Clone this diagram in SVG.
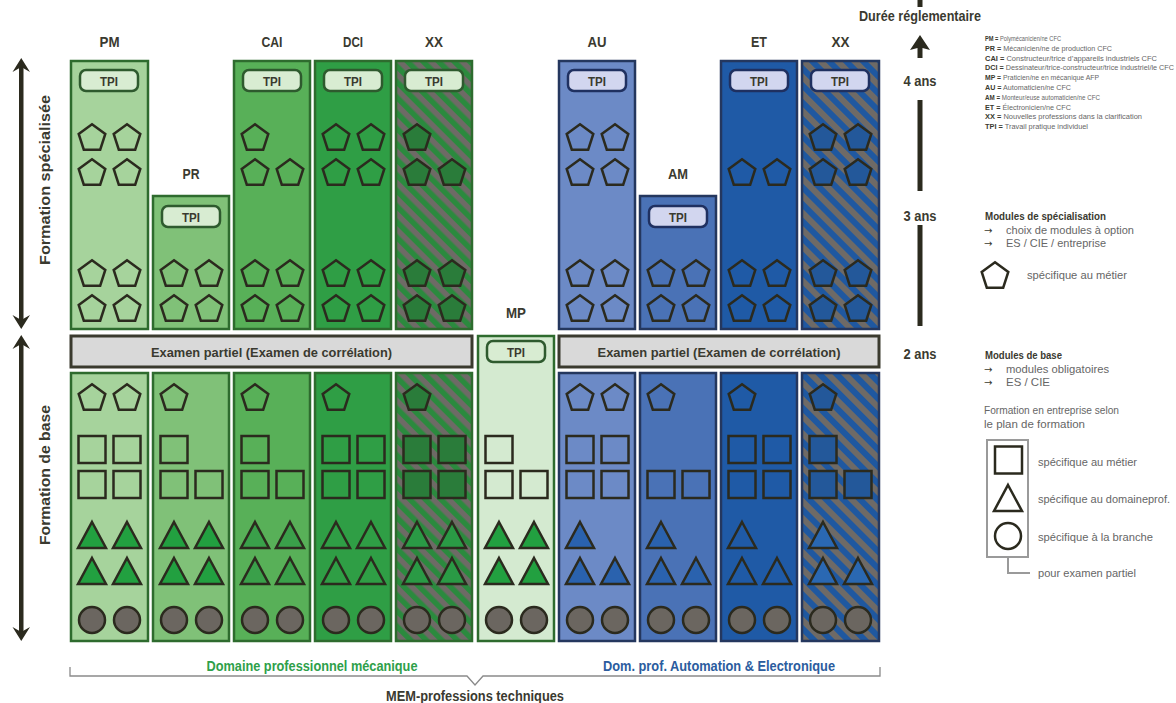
<svg xmlns="http://www.w3.org/2000/svg" xmlns:xlink="http://www.w3.org/1999/xlink" width="1176" height="703" viewBox="0 0 1176 703">
<style>
.t{font-family:"Liberation Sans",Arial,sans-serif;font-weight:bold;fill:#3a3a30;text-anchor:middle}
.col{font-size:15px}
.tpi{font-size:12px}
.ex{font-size:13.5px}
.yr{font-size:14.5px;font-weight:bold;fill:#3a3a30}
.lg{font-family:"Liberation Sans",Arial,sans-serif;fill:#666;font-size:6.5px}
.lg tspan.b{font-weight:bold;fill:#3a3a30}
.lm{font-family:"Liberation Sans",Arial,sans-serif;fill:#666;font-size:11px}
.ar{font-family:"DejaVu Sans",sans-serif;fill:#3a3a30;font-size:10px}
.lh{font-family:"Liberation Sans",Arial,sans-serif;fill:#3a3a30;font-size:11px;font-weight:bold}
.cg{stroke:#2e6b2e;stroke-width:2.5}
.cb{stroke:#24375e;stroke-width:2.5}
.tg{fill:#d8ecd2;stroke:#2e5a2e;stroke-width:2.5}
.tb{fill:#d2d6ef;stroke:#1f3060;stroke-width:2.5}
.exb{fill:#d9d9d9;stroke:#3a3a2e;stroke-width:3}
</style>
<defs>
<pattern id="hg" width="11" height="11" patternUnits="userSpaceOnUse" patternTransform="rotate(45)">
<rect width="11" height="11" fill="#2b8a3e"/><rect width="11" height="5.5" fill="#6e6a66"/>
</pattern>
<pattern id="hb" width="12" height="12" patternUnits="userSpaceOnUse" patternTransform="rotate(45)">
<rect width="12" height="12" fill="#1f58a0"/><rect width="12" height="6" fill="#6e6a66"/>
</pattern>
<path id="pent" d="M0,-12.7 L13.3,-3 L8.2,12.7 L-8.2,12.7 L-13.3,-3 Z" stroke="#2b2a1e" stroke-width="2.5" stroke-linejoin="miter"/>
<rect id="sq" x="-13.5" y="-13.5" width="27" height="27" stroke="#2b2a1e" stroke-width="2.5"/>
<path id="tri" d="M0,-13 L14,13 L-14,13 Z" stroke="#2b2a1e" stroke-width="2.5"/>
<circle id="ci" r="13" stroke="#2b2a1e" stroke-width="2.5"/>
</defs>
<rect width="1176" height="703" fill="#ffffff"/>

<!-- top labels -->
<g id="labels">
<text class="t col" x="109.5" y="47" textLength="20" lengthAdjust="spacingAndGlyphs">PM</text>
<text class="t col" x="191" y="179" textLength="17" lengthAdjust="spacingAndGlyphs">PR</text>
<text class="t col" x="272" y="47" textLength="21" lengthAdjust="spacingAndGlyphs">CAI</text>
<text class="t col" x="353" y="47" textLength="20" lengthAdjust="spacingAndGlyphs">DCI</text>
<text class="t col" x="434" y="47" textLength="18" lengthAdjust="spacingAndGlyphs">XX</text>
<text class="t col" x="516" y="318" textLength="20" lengthAdjust="spacingAndGlyphs">MP</text>
<text class="t col" x="597" y="47" textLength="19" lengthAdjust="spacingAndGlyphs">AU</text>
<text class="t col" x="678" y="179" textLength="20" lengthAdjust="spacingAndGlyphs">AM</text>
<text class="t col" x="759" y="47" textLength="16" lengthAdjust="spacingAndGlyphs">ET</text>
<text class="t col" x="840.5" y="47" textLength="18" lengthAdjust="spacingAndGlyphs">XX</text>
</g>

<!-- PM -->
<g id="PM" fill="none">
<rect class="cg" x="71" y="61" width="77" height="268" fill="#a6d39c"/>
<rect class="tg" x="80" y="70" width="58" height="21" rx="6"/>
<text class="t tpi" x="109" y="85.5" textLength="18" lengthAdjust="spacingAndGlyphs">TPI</text>
<use href="#pent" x="92" y="137"/><use href="#pent" x="127" y="137"/>
<use href="#pent" x="92" y="172"/><use href="#pent" x="127" y="172"/>
<use href="#pent" x="92" y="273"/><use href="#pent" x="127" y="273"/>
<use href="#pent" x="92" y="308"/><use href="#pent" x="127" y="308"/>
<rect class="cg" x="71" y="373" width="77" height="268" fill="#a6d39c"/>
<use href="#pent" x="92" y="397"/><use href="#pent" x="127" y="397"/>
<use href="#sq" x="92" y="449.5"/><use href="#sq" x="127" y="449.5"/>
<use href="#sq" x="92" y="484.5"/><use href="#sq" x="127" y="484.5"/>
<use href="#tri" x="92" y="535" fill="#22a040"/><use href="#tri" x="127" y="535" fill="#22a040"/>
<use href="#tri" x="92" y="571" fill="#22a040"/><use href="#tri" x="127" y="571" fill="#22a040"/>
<use href="#ci" x="92" y="620" fill="#6b6660"/><use href="#ci" x="127" y="620" fill="#6b6660"/>
</g>

<!-- PR -->
<g id="PR" fill="none">
<rect class="cg" x="153" y="196" width="76" height="133" fill="#80c178"/>
<rect class="tg" x="162" y="206" width="58" height="21" rx="6"/>
<text class="t tpi" x="191" y="221.5" textLength="18" lengthAdjust="spacingAndGlyphs">TPI</text>
<use href="#pent" x="174" y="273"/><use href="#pent" x="209" y="273"/>
<use href="#pent" x="174" y="308"/><use href="#pent" x="209" y="308"/>
<rect class="cg" x="153" y="373" width="76" height="268" fill="#80c178"/>
<use href="#pent" x="174" y="397"/>
<use href="#sq" x="174" y="449.5"/>
<use href="#sq" x="174" y="484.5"/><use href="#sq" x="209" y="484.5"/>
<use href="#tri" x="174" y="535" fill="#22a040"/><use href="#tri" x="209" y="535" fill="#22a040"/>
<use href="#tri" x="174" y="571" fill="#22a040"/><use href="#tri" x="209" y="571" fill="#22a040"/>
<use href="#ci" x="174" y="620" fill="#6b6660"/><use href="#ci" x="209" y="620" fill="#6b6660"/>
</g>

<!-- CAI -->
<g id="CAI" fill="none">
<rect class="cg" x="234" y="61" width="76" height="268" fill="#58b058"/>
<rect class="tg" x="243" y="70" width="58" height="21" rx="6"/>
<text class="t tpi" x="272" y="85.5" textLength="18" lengthAdjust="spacingAndGlyphs">TPI</text>
<use href="#pent" x="255" y="137"/>
<use href="#pent" x="255" y="172"/><use href="#pent" x="290" y="172"/>
<use href="#pent" x="255" y="273"/><use href="#pent" x="290" y="273"/>
<use href="#pent" x="255" y="308"/><use href="#pent" x="290" y="308"/>
<rect class="cg" x="234" y="373" width="76" height="268" fill="#58b058"/>
<use href="#pent" x="255" y="397"/>
<use href="#sq" x="255" y="449.5"/>
<use href="#sq" x="255" y="484.5"/><use href="#sq" x="290" y="484.5"/>
<use href="#tri" x="255" y="535" fill="#3aa04a"/><use href="#tri" x="290" y="535" fill="#3aa04a"/>
<use href="#tri" x="255" y="571" fill="#3aa04a"/><use href="#tri" x="290" y="571" fill="#3aa04a"/>
<use href="#ci" x="255" y="620" fill="#6b6660"/><use href="#ci" x="290" y="620" fill="#6b6660"/>
</g>

<!-- DCI -->
<g id="DCI" fill="none">
<rect class="cg" x="315" y="61" width="76" height="268" fill="#2f9e45"/>
<rect class="tg" x="324" y="70" width="58" height="21" rx="6"/>
<text class="t tpi" x="353" y="85.5" textLength="18" lengthAdjust="spacingAndGlyphs">TPI</text>
<use href="#pent" x="336" y="137"/><use href="#pent" x="371" y="137"/>
<use href="#pent" x="336" y="172"/><use href="#pent" x="371" y="172"/>
<use href="#pent" x="336" y="273"/><use href="#pent" x="371" y="273"/>
<use href="#pent" x="336" y="308"/><use href="#pent" x="371" y="308"/>
<rect class="cg" x="315" y="373" width="76" height="268" fill="#2f9e45"/>
<use href="#pent" x="336" y="397"/>
<use href="#sq" x="336" y="449.5"/><use href="#sq" x="371" y="449.5"/>
<use href="#sq" x="336" y="484.5"/><use href="#sq" x="371" y="484.5"/>
<use href="#tri" x="336" y="535"/><use href="#tri" x="371" y="535"/>
<use href="#tri" x="336" y="571"/><use href="#tri" x="371" y="571"/>
<use href="#ci" x="336" y="620" fill="#6b6660"/><use href="#ci" x="371" y="620" fill="#6b6660"/>
</g>

<!-- XX green -->
<g id="XXg" fill="#2a7c3a">
<rect class="cg" x="396" y="61" width="76" height="268" fill="url(#hg)"/>
<rect class="tg" x="405" y="70" width="58" height="21" rx="6"/>
<text class="t tpi" x="434" y="85.5" textLength="18" lengthAdjust="spacingAndGlyphs">TPI</text>
<use href="#pent" x="417" y="137"/>
<use href="#pent" x="417" y="172"/><use href="#pent" x="452" y="172"/>
<use href="#pent" x="417" y="273"/><use href="#pent" x="452" y="273"/>
<use href="#pent" x="417" y="308"/><use href="#pent" x="452" y="308"/>
<rect class="cg" x="396" y="373" width="76" height="268" fill="url(#hg)"/>
<use href="#pent" x="417" y="397"/>
<use href="#sq" x="417" y="449.5"/><use href="#sq" x="452" y="449.5"/>
<use href="#sq" x="417" y="484.5"/><use href="#sq" x="452" y="484.5"/>
<use href="#tri" x="417" y="535" fill="#2a9a45"/><use href="#tri" x="452" y="535" fill="#2a9a45"/>
<use href="#tri" x="417" y="571" fill="#2a9a45"/><use href="#tri" x="452" y="571" fill="#2a9a45"/>
<use href="#ci" x="417" y="620" fill="#6b6660"/><use href="#ci" x="452" y="620" fill="#6b6660"/>
</g>

<!-- MP -->
<g id="MP" fill="none">
<rect class="cg" x="478" y="336" width="76" height="305" fill="#d4ead0"/>
<rect class="tg" x="487" y="341" width="58" height="21" rx="6"/>
<text class="t tpi" x="516" y="356.5" textLength="18" lengthAdjust="spacingAndGlyphs">TPI</text>
<use href="#sq" x="499" y="449.5"/>
<use href="#sq" x="499" y="484.5"/><use href="#sq" x="534" y="484.5"/>
<use href="#tri" x="499" y="535" fill="#22a040"/><use href="#tri" x="534" y="535" fill="#22a040"/>
<use href="#tri" x="499" y="571" fill="#22a040"/><use href="#tri" x="534" y="571" fill="#22a040"/>
<use href="#ci" x="499" y="620" fill="#6b6660"/><use href="#ci" x="534" y="620" fill="#6b6660"/>
</g>

<!-- AU -->
<g id="AU" fill="none">
<rect class="cb" x="559" y="61" width="76" height="268" fill="#6c8ac6"/>
<rect class="tb" x="568" y="70" width="58" height="21" rx="6"/>
<text class="t tpi" x="597" y="85.5" textLength="18" lengthAdjust="spacingAndGlyphs">TPI</text>
<use href="#pent" x="580" y="137"/><use href="#pent" x="615" y="137"/>
<use href="#pent" x="580" y="172"/><use href="#pent" x="615" y="172"/>
<use href="#pent" x="580" y="273"/><use href="#pent" x="615" y="273"/>
<use href="#pent" x="580" y="308"/><use href="#pent" x="615" y="308"/>
<rect class="cb" x="559" y="373" width="76" height="268" fill="#6c8ac6"/>
<use href="#pent" x="580" y="397"/><use href="#pent" x="615" y="397"/>
<use href="#sq" x="580" y="449.5"/><use href="#sq" x="615" y="449.5"/>
<use href="#sq" x="580" y="484.5"/><use href="#sq" x="615" y="484.5"/>
<use href="#tri" x="580" y="535" fill="#2a62ae"/>
<use href="#tri" x="580" y="571" fill="#2a62ae"/><use href="#tri" x="615" y="571" fill="#2a62ae"/>
<use href="#ci" x="580" y="620" fill="#6b6660"/><use href="#ci" x="615" y="620" fill="#6b6660"/>
</g>

<!-- AM -->
<g id="AM" fill="none">
<rect class="cb" x="640" y="196" width="76" height="133" fill="#4a72b6"/>
<rect class="tb" x="649" y="206" width="58" height="21" rx="6"/>
<text class="t tpi" x="678" y="221.5" textLength="18" lengthAdjust="spacingAndGlyphs">TPI</text>
<use href="#pent" x="661" y="273"/><use href="#pent" x="696" y="273"/>
<use href="#pent" x="661" y="308"/><use href="#pent" x="696" y="308"/>
<rect class="cb" x="640" y="373" width="76" height="268" fill="#4a72b6"/>
<use href="#pent" x="661" y="397"/>
<use href="#sq" x="661" y="484.5"/><use href="#sq" x="696" y="484.5"/>
<use href="#tri" x="661" y="535" fill="#2a62ae"/>
<use href="#tri" x="661" y="571" fill="#2a62ae"/><use href="#tri" x="696" y="571" fill="#2a62ae"/>
<use href="#ci" x="661" y="620" fill="#6b6660"/><use href="#ci" x="696" y="620" fill="#6b6660"/>
</g>

<!-- ET -->
<g id="ET" fill="none">
<rect class="cb" x="721" y="61" width="76" height="268" fill="#1f5aa6"/>
<rect class="tb" x="730" y="70" width="58" height="21" rx="6"/>
<text class="t tpi" x="759" y="85.5" textLength="18" lengthAdjust="spacingAndGlyphs">TPI</text>
<use href="#pent" x="742" y="172"/><use href="#pent" x="777" y="172"/>
<use href="#pent" x="742" y="273"/><use href="#pent" x="777" y="273"/>
<use href="#pent" x="742" y="308"/><use href="#pent" x="777" y="308"/>
<rect class="cb" x="721" y="373" width="76" height="268" fill="#1f5aa6"/>
<use href="#pent" x="742" y="397"/>
<use href="#sq" x="742" y="449.5"/><use href="#sq" x="777" y="449.5"/>
<use href="#sq" x="742" y="484.5"/><use href="#sq" x="777" y="484.5"/>
<use href="#tri" x="742" y="535"/>
<use href="#tri" x="742" y="571"/><use href="#tri" x="777" y="571"/>
<use href="#ci" x="742" y="620" fill="#6b6660"/><use href="#ci" x="777" y="620" fill="#6b6660"/>
</g>

<!-- XX blue -->
<g id="XXb" fill="#23589a">
<rect class="cb" x="802" y="61" width="77" height="268" fill="url(#hb)"/>
<rect class="tb" x="811" y="70" width="58" height="21" rx="6"/>
<text class="t tpi" x="840" y="85.5" textLength="18" lengthAdjust="spacingAndGlyphs">TPI</text>
<use href="#pent" x="823" y="137"/><use href="#pent" x="858" y="137"/>
<use href="#pent" x="823" y="172"/><use href="#pent" x="858" y="172"/>
<use href="#pent" x="823" y="273"/><use href="#pent" x="858" y="273"/>
<use href="#pent" x="823" y="308"/><use href="#pent" x="858" y="308"/>
<rect class="cb" x="802" y="373" width="77" height="268" fill="url(#hb)"/>
<use href="#pent" x="823" y="397"/>
<use href="#sq" x="823" y="449.5"/>
<use href="#sq" x="823" y="484.5"/><use href="#sq" x="858" y="484.5"/>
<use href="#tri" x="823" y="535" fill="#2a68b2"/>
<use href="#tri" x="823" y="571" fill="#2a68b2"/><use href="#tri" x="858" y="571" fill="#2a68b2"/>
<use href="#ci" x="823" y="620" fill="#6b6660"/><use href="#ci" x="858" y="620" fill="#6b6660"/>
</g>

<!-- exam bars -->
<g id="exam-left">
<rect class="exb" x="71" y="336" width="401" height="31"/>
<text class="t ex" x="271.5" y="357" textLength="241" lengthAdjust="spacingAndGlyphs">Examen partiel (Examen de corrélation)</text>
</g>
<g id="exam-right">
<rect class="exb" x="559" y="336" width="320" height="31"/>
<text class="t ex" x="719" y="357" textLength="243" lengthAdjust="spacingAndGlyphs">Examen partiel (Examen de corrélation)</text>
</g>

<!-- connectors / arrows -->
<g id="connectors" fill="#2b2a1e">
<rect x="19" y="64" width="4.5" height="259"/>
<path d="M21.25,58 L30,72 L21.25,67 L12.5,72 Z"/>
<path d="M21.25,329 L30,315 L21.25,320 L12.5,315 Z"/>
<rect x="19" y="341" width="4.5" height="295"/>
<path d="M21.25,335 L30,349 L21.25,344 L12.5,349 Z"/>
<path d="M21.25,641 L30,627 L21.25,632 L12.5,627 Z"/>
<rect x="917.5" y="0" width="5" height="7"/>
<path d="M920,35 L930,50 L922.5,48 L922.5,58 L917.5,58 L917.5,48 L910,50 Z"/>
<rect x="917.5" y="100" width="5" height="91"/>
<rect x="917.5" y="225" width="5" height="101"/>
<path d="M70,667 V676 H467 L475,685 L483,676 H880 V667" fill="none" stroke="#8a8a8a" stroke-width="1.3"/>
<path d="M1008,557 V573 H1030" fill="none" stroke="#9a9a9a" stroke-width="2"/>
</g>

<!-- side labels -->
<g id="side">
<text class="t" font-size="14" transform="translate(50,180) rotate(-90)" textLength="170" lengthAdjust="spacingAndGlyphs">Formation spécialisée</text>
<text class="t" font-size="14" transform="translate(50,475) rotate(-90)" textLength="140" lengthAdjust="spacingAndGlyphs">Formation de base</text>
<text class="t" font-size="14" x="920" y="21" textLength="122" lengthAdjust="spacingAndGlyphs">Durée réglementaire</text>
<text class="t yr" x="920" y="85.5" textLength="33" lengthAdjust="spacingAndGlyphs">4 ans</text>
<text class="t yr" x="920" y="220.5" textLength="33" lengthAdjust="spacingAndGlyphs">3 ans</text>
<text class="t yr" x="920" y="358.5" textLength="33" lengthAdjust="spacingAndGlyphs">2 ans</text>
</g>

<!-- bottom labels -->
<g id="bottom">
<text class="t" font-size="14" x="312" y="671" style="fill:#2ea04a" textLength="211" lengthAdjust="spacingAndGlyphs">Domaine professionnel mécanique</text>
<text class="t" font-size="14" x="719" y="671" style="fill:#2b5c9e" textLength="232" lengthAdjust="spacingAndGlyphs">Dom. prof. Automation &amp; Electronique</text>
<text class="t" font-size="14" x="475" y="701" textLength="178" lengthAdjust="spacingAndGlyphs">MEM-professions techniques</text>
</g>

<!-- legend abbreviations -->
<g id="legend-abbr">
<text class="lg" x="985" y="41" textLength="76" lengthAdjust="spacingAndGlyphs"><tspan class="b">PM =</tspan> Polymécanicien/ne CFC</text>
<text class="lg" x="985" y="50.8" textLength="127" lengthAdjust="spacingAndGlyphs"><tspan class="b">PR =</tspan> Mécanicien/ne de production CFC</text>
<text class="lg" x="985" y="60.6" textLength="172" lengthAdjust="spacingAndGlyphs"><tspan class="b">CAI =</tspan> Constructeur/trice d’appareils industriels CFC</text>
<text class="lg" x="985" y="70.4" textLength="189" lengthAdjust="spacingAndGlyphs"><tspan class="b">DCI =</tspan> Dessinateur/trice-constructeur/trice industriel/le CFC</text>
<text class="lg" x="985" y="80.2" textLength="114" lengthAdjust="spacingAndGlyphs"><tspan class="b">MP =</tspan> Praticien/ne en mécanique AFP</text>
<text class="lg" x="985" y="90" textLength="86" lengthAdjust="spacingAndGlyphs"><tspan class="b">AU =</tspan> Automaticien/ne CFC</text>
<text class="lg" x="985" y="99.8" textLength="115" lengthAdjust="spacingAndGlyphs"><tspan class="b">AM =</tspan> Monteur/euse automaticien/ne CFC</text>
<text class="lg" x="985" y="109.6" textLength="86" lengthAdjust="spacingAndGlyphs"><tspan class="b">ET =</tspan> Électronicien/ne CFC</text>
<text class="lg" x="985" y="119.4" textLength="157" lengthAdjust="spacingAndGlyphs"><tspan class="b">XX =</tspan> Nouvelles professions dans la clarification</text>
<text class="lg" x="985" y="129.2" textLength="103" lengthAdjust="spacingAndGlyphs"><tspan class="b">TPI =</tspan> Travail pratique individuel</text>
</g>

<!-- legend modules -->
<g id="legend-spec">
<text class="lh" x="985" y="220" textLength="121" lengthAdjust="spacingAndGlyphs">Modules de spécialisation</text>
<text class="ar" x="984" y="233.5">→</text>
<text class="lm" x="1006" y="233.5" textLength="128" lengthAdjust="spacingAndGlyphs">choix de modules à option</text>
<text class="ar" x="984" y="247">→</text>
<text class="lm" x="1006" y="247" textLength="100" lengthAdjust="spacingAndGlyphs">ES / CIE / entreprise</text>
<use href="#pent" x="995" y="275" fill="none"/>
<text class="lm" x="1027" y="279" textLength="100" lengthAdjust="spacingAndGlyphs">spécifique au métier</text>
</g>
<g id="legend-base">
<text class="lh" x="985" y="359" textLength="77" lengthAdjust="spacingAndGlyphs">Modules de base</text>
<text class="ar" x="984" y="372.5">→</text>
<text class="lm" x="1006" y="372.5" textLength="103" lengthAdjust="spacingAndGlyphs">modules obligatoires</text>
<text class="ar" x="984" y="386">→</text>
<text class="lm" x="1006" y="386" textLength="44" lengthAdjust="spacingAndGlyphs">ES / CIE</text>
<text class="lm" x="984" y="414" textLength="135" lengthAdjust="spacingAndGlyphs">Formation en entreprise selon</text>
<text class="lm" x="984" y="427.5" textLength="101" lengthAdjust="spacingAndGlyphs">le plan de formation</text>
<rect x="987" y="440" width="41" height="117" fill="none" stroke="#9a9a9a" stroke-width="2"/>
<use href="#sq" x="1008.5" y="460" fill="none"/>
<use href="#tri" x="1008" y="498" fill="none"/>
<use href="#ci" x="1008" y="536" fill="none"/>
<text class="lm" x="1038" y="466" textLength="99" lengthAdjust="spacingAndGlyphs">spécifique au métier</text>
<text class="lm" x="1038" y="502.5" textLength="132" lengthAdjust="spacingAndGlyphs">spécifique au domaineprof.</text>
<text class="lm" x="1038" y="540.5" textLength="115" lengthAdjust="spacingAndGlyphs">spécifique à la branche</text>
<text class="lm" x="1038" y="577" textLength="98" lengthAdjust="spacingAndGlyphs">pour examen partiel</text>
</g>
</svg>
